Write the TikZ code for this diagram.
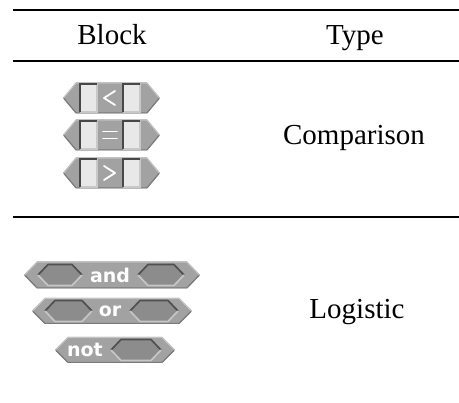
\documentclass[tikz,border=0pt]{standalone}
\usepackage{fontspec}
\setmainfont{Liberation Serif}
\newfontfamily\blockfont{DejaVu Sans}
\definecolor{blockgray}{HTML}{A2A2A2}
\definecolor{blocklight}{HTML}{C2C2C2}
\definecolor{blockdark}{HTML}{7A7A7A}
\definecolor{slotwhite}{HTML}{E8E8E8}
\definecolor{slotdark}{HTML}{484848}
\definecolor{slotlight}{HTML}{C8C8C8}
\definecolor{hexfill}{HTML}{8C8C8C}
\definecolor{hexdark}{HTML}{505050}
\definecolor{hexlight}{HTML}{C6C6C6}
\tikzset{
  rulestyle/.style={line width=2.9pt, black},
  celltext/.style={font=\fontsize{29}{32}\selectfont, anchor=base, inner sep=0pt},
  blocktext/.style={font=\blockfont\bfseries\fontsize{19}{21}\selectfont, text=white, inner sep=0pt},
  symline/.style={white, line width=1.8pt, line cap=round, line join=round},
}
% block body: left tip x, right tip x, centre y, half height
\newcommand{\lgbody}[4]{%
  \fill[blockgray] (#1,#3) -- (#1+13,#3-#4) -- (#2-13,#3-#4) -- (#2,#3) -- (#2-13,#3+#4) -- (#1+13,#3+#4) -- cycle;
  \draw[blocklight, line width=1.2pt] (#1+1,#3-0.5) -- (#1+13,#3-#4+0.6) -- (#2-13,#3-#4+0.6) -- (#2-1,#3-0.5);
  \draw[blockdark, line width=1.2pt] (#1+1,#3+0.5) -- (#1+13,#3+#4-0.6) -- (#2-13,#3+#4-0.6) -- (#2-1,#3+0.5);
}
% hexagonal slot: centre x, centre y, half width
\newcommand{\hxslot}[3]{%
  \fill[hexfill] (#1-#3,#2) -- (#1-#3+10,#2-10.5) -- (#1+#3-10,#2-10.5) -- (#1+#3,#2) -- (#1+#3-10,#2+10.5) -- (#1-#3+10,#2+10.5) -- cycle;
  \draw[hexdark, line width=1.7pt, line join=round] (#1-#3,#2) -- (#1-#3+10,#2-10.5) -- (#1+#3-10,#2-10.5) -- (#1+#3,#2);
  \draw[hexlight, line width=1.7pt, line join=round] (#1-#3,#2) -- (#1-#3+10,#2+10.5) -- (#1+#3-10,#2+10.5) -- (#1+#3,#2);
}
% rectangular slot: left x, centre y
\newcommand{\rcslot}[2]{%
  \fill[slotwhite] (#1,#2-14) rectangle (#1+17,#2+14);
  \draw[slotlight, line width=1.4pt] (#1+17,#2-14) -- (#1+17,#2+14) -- (#1,#2+14);
  \draw[slotdark, line width=2pt] (#1,#2+14) -- (#1,#2-14) -- (#1+17,#2-14);
}
\begin{document}
\begin{tikzpicture}[x=1pt,y=-1pt]
\useasboundingbox (0,0) rectangle (459,403);
\fill[white] (0,0) rectangle (459,403);
% rules
\coordinate (r1a) at (13,10);  \coordinate (r1b) at (459,10);
\coordinate (r2a) at (13,61);  \coordinate (r2b) at (459,61);
\coordinate (r3a) at (13,217); \coordinate (r3b) at (459,217);
\draw[rulestyle] (r1a) -- (r1b);
\draw[rulestyle] (r2a) -- (r2b);
\draw[rulestyle] (r3a) -- (r3b);
% header
\node[celltext] (hblock) at (112,45) {Block};
\node[celltext] (htype) at (355,45) {Type};
% comparison blocks
\foreach \cy in {98,135,173} {
  \lgbody{63}{160}{\cy}{15.5}
  \rcslot{80}{\cy}
  \rcslot{123}{\cy}
}
\draw[symline] (115,91) -- (104,98) -- (115,105);
\draw[symline] (103,131.5) -- (117,131.5);
\draw[symline] (103,138.5) -- (117,138.5);
\draw[symline] (104,166) -- (115,173) -- (104,180);
\node[celltext] (tcomp) at (354,145) {Comparison};
% logic blocks
\lgbody{24}{200}{275}{13.5}
\hxslot{60}{275}{22}
\hxslot{161}{275}{23}
\node[blocktext] (band) at (110,275) {and};
\lgbody{32}{192}{311}{13}
\hxslot{68.5}{311}{23.5}
\hxslot{154}{311}{24}
\node[blocktext] (bor) at (110,311) {or};
\lgbody{55}{175}{350}{13}
\node[blocktext] (bnot) at (85,350) {not};
\hxslot{136}{350}{25}
\node[celltext] (tlog) at (357,319) {Logistic};
\end{tikzpicture}
\end{document}
